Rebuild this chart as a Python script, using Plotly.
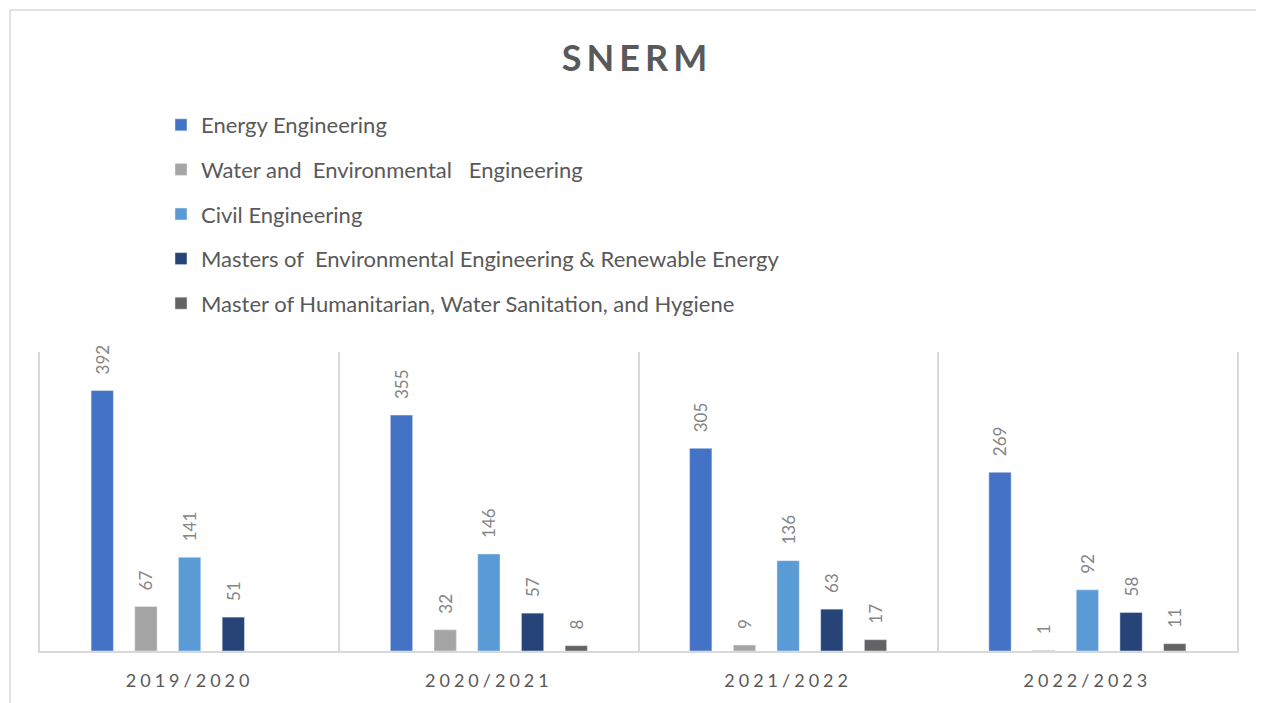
import plotly.graph_objects as go

years = ["2019/2020", "2020/2021", "2021/2022", "2022/2023"]
series_names = [
    "Energy Engineering",
    "Water and\u00a0 Environmental\u00a0\u00a0 Engineering",
    "Civil Engineering",
    "Masters of\u00a0 Environmental Engineering & Renewable Energy",
    "Master of Humanitarian, Water Sanitation, and Hygiene",
]
energy = [392, 355, 305, 269]
water = [67, 32, 9, 1]
civil = [141, 146, 136, 92]
masters_env = [51, 57, 63, 58]
masters_hum = [None, 8, 17, 11]
colors = ["#4472C4", "#A5A5A5", "#5B9BD5", "#264478", "#636363"]

FONT = "Lato"
fig = go.Figure()
for name, vals, col in zip(series_names, [energy, water, civil, masters_env, masters_hum], colors):
    fig.add_trace(go.Bar(
        x=years, y=vals, name=name, marker_color=col,
        texttemplate="\u00a0\u00a0\u00a0%{y}",
        textposition="outside", textangle=-90, constraintext="none",
        textfont=dict(family=FONT, size=17, color="#858585"),
        cliponaxis=False, legendgroup=name,
    ))

# page has an 8px body margin; figure coordinates are page - 8
W, H = 1256, 695
L, R, T, B = 32, 27, 344, 52
pw, ph = W - L - R, H - T - B
base = T + ph

fig.update_layout(
    width=W, height=H,
    margin=dict(l=L, r=R, t=T, b=B),
    paper_bgcolor="white", plot_bgcolor="white",
    barmode="group", bargap=0.27, bargroupgap=0.49,
    title=dict(text="<b>SNERM</b>", x=629 / W, xanchor="center", y=1 - 50 / H, yanchor="middle",
               font=dict(family=FONT, size=36, color="#595959")),
    legend=dict(x=(153 - L) / pw, xanchor="left", y=(base - 96) / ph, yanchor="top",
                font=dict(family=FONT, size=22, color="#595959"),
                traceorder="grouped", tracegroupgap=13, bgcolor="rgba(0,0,0,0)"),
    xaxis=dict(type="category", tickson="boundaries", showgrid=True, gridcolor="#d9d9d9", gridwidth=2,
               showline=True, linecolor="#d9d9d9", linewidth=2, ticks="", ticklabelstandoff=12,
               tickfont=dict(family=FONT, size=18, color="#595959"), range=[-0.5, 3.5]),
    yaxis=dict(range=[0, 450], showticklabels=False, ticks="", showgrid=False, zeroline=False,
               showline=True, mirror=True, linecolor="#d9d9d9", linewidth=2),
    showlegend=True,
)
# outer chart border
fig.add_shape(type="rect", xref="paper", yref="paper",
              x0=(2 - L) / pw, x1=(W + 30 - L) / pw, y0=(base - (H + 30)) / ph, y1=(base - 2) / ph,
              line=dict(color="#d9d9d9", width=1.5), fillcolor="rgba(0,0,0,0)", layer="below")

spacing_js = """
document.querySelectorAll('.xtick text').forEach(function(t){t.style.letterSpacing='4px';});
document.querySelectorAll('.gtitle').forEach(function(t){t.style.letterSpacing='5px';});
"""
fig.write_html("out.html", post_script=spacing_js)
